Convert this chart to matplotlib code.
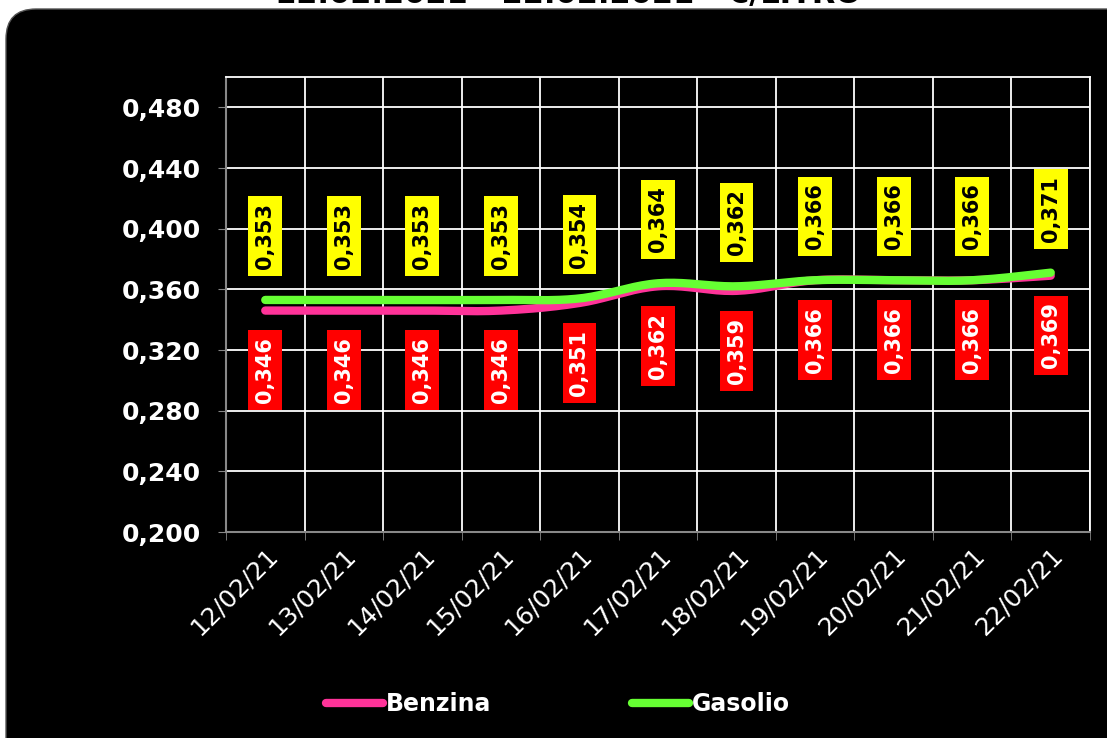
import numpy as np
import matplotlib
matplotlib.use("Agg")
import matplotlib.pyplot as plt
from matplotlib.patches import FancyBboxPatch

# ---- data ----
dates = ["12/02/21", "13/02/21", "14/02/21", "15/02/21", "16/02/21", "17/02/21",
         "18/02/21", "19/02/21", "20/02/21", "21/02/21", "22/02/21"]
benzina = [0.346, 0.346, 0.346, 0.346, 0.351, 0.362, 0.359, 0.366, 0.366, 0.366, 0.369]
gasolio = [0.353, 0.353, 0.353, 0.353, 0.354, 0.364, 0.362, 0.366, 0.366, 0.366, 0.371]
yticks = [0.200, 0.240, 0.280, 0.320, 0.360, 0.400, 0.440, 0.480]
title = "12.02.2021 - 22.02.2021 - €/LITRO"

PINK = "#FF3399"
GREEN = "#66FF33"

def smooth(xs, ys, n=20, tension=0.35):
    xs = np.asarray(xs, float); ys = np.asarray(ys, float)
    px = np.concatenate([[xs[0]], xs, [xs[-1]]])
    py = np.concatenate([[ys[0]], ys, [ys[-1]]])
    ox, oy = [], []
    t = np.linspace(0, 1, n, endpoint=False)
    for i in range(1, len(px)-2):
        for P, out in ((px, ox), (py, oy)):
            p0, p1, p2, p3 = P[i-1], P[i], P[i+1], P[i+2]
            c1 = p1 + (p2 - p0) * tension / 2
            c2 = p2 - (p3 - p1) * tension / 2
            out.extend((1-t)**3*p1 + 3*(1-t)**2*t*c1 + 3*(1-t)*t**2*c2 + t**3*p2)
    ox.append(xs[-1]); oy.append(ys[-1])
    return np.array(ox), np.array(oy)

W, H = 1107, 738
fig = plt.figure(figsize=(W/100, H/100), dpi=100)
fig.patch.set_facecolor("white")

# black rounded panel (figure background)
bg = fig.add_axes([0, 0, 1, 1], zorder=0)
bg.set_xlim(0, W); bg.set_ylim(H, 0); bg.axis("off")
panel = FancyBboxPatch((6, 9), W + 30, H + 30,
                       boxstyle="round,pad=0,rounding_size=30",
                       facecolor="black", edgecolor="#555555", linewidth=1)
bg.add_patch(panel)

fig.text(568/W, 1 - 3/H, title, ha="center", va="baseline", fontsize=22,
         fontweight="bold", color="black", zorder=5)

ax = fig.add_axes([226/W, 1 - 532/H, (1090-226)/W, (532-77)/H], zorder=2)
ax.set_facecolor("black")
x = np.arange(len(dates))
ax.set_xlim(-0.5, len(dates) - 0.5)
ax.set_ylim(0.2, 0.5)

ax.set_yticks(yticks)
ax.set_yticklabels([f"{v:.3f}".replace(".", ",") for v in yticks],
                   fontsize=18, fontweight="bold", color="white")
ax.set_xticks(x)
ax.set_xticklabels(dates, rotation=45, ha="right", rotation_mode="anchor",
                   fontsize=18, color="white")
ax.set_xticks(np.arange(-0.5, len(dates)), minor=True)
ax.tick_params(axis="x", which="major", length=0, pad=8)
ax.tick_params(axis="x", which="minor", length=6, color="#888888", direction="out")
ax.tick_params(axis="y", length=6, color="#888888", pad=12)
ax.grid(True, axis="y", which="major", color="white", linewidth=1.3)
ax.grid(True, axis="x", which="minor", color="white", linewidth=1.3)
for s in ("top", "right"):
    ax.spines[s].set_color("white"); ax.spines[s].set_linewidth(1.3)
for s in ("left", "bottom"):
    ax.spines[s].set_color("#888888"); ax.spines[s].set_linewidth(1.5)
ax.set_axisbelow(True)

sx, sy = smooth(x, benzina)
ax.plot(sx, sy, color=PINK, linewidth=6, solid_capstyle="round", label="Benzina", zorder=3)
gx, gy = smooth(x, gasolio)
ax.plot(gx, gy, color=GREEN, linewidth=6, solid_capstyle="round", label="Gasolio", zorder=4)

for xi, v in zip(x, gasolio):
    ax.annotate(f"{v:.3f}".replace(".", ","), (xi, v), xytext=(0, 46),
                textcoords="offset points", rotation=90, ha="center", va="center",
                fontsize=15, fontweight="bold", color="black", zorder=5,
                bbox=dict(boxstyle="square,pad=0.33", facecolor="#FFFF00", edgecolor="none"))
for xi, v in zip(x, benzina):
    ax.annotate(f"{v:.3f}".replace(".", ","), (xi, v), xytext=(0, -43),
                textcoords="offset points", rotation=90, ha="center", va="center",
                fontsize=15, fontweight="bold", color="white", zorder=5,
                bbox=dict(boxstyle="square,pad=0.33", facecolor="#FF0000", edgecolor="none"))

leg = fig.legend(handles=ax.get_lines(), loc="center", bbox_to_anchor=(558/W, 1 - 704/H),
                 ncol=2, frameon=False, handlelength=2.4, handletextpad=0.1,
                 columnspacing=6.0, prop=dict(weight="bold", size=17))
leg.set_zorder(6)
for t in leg.get_texts():
    t.set_color("white")

fig.savefig("out.png", dpi=100, facecolor="white")
